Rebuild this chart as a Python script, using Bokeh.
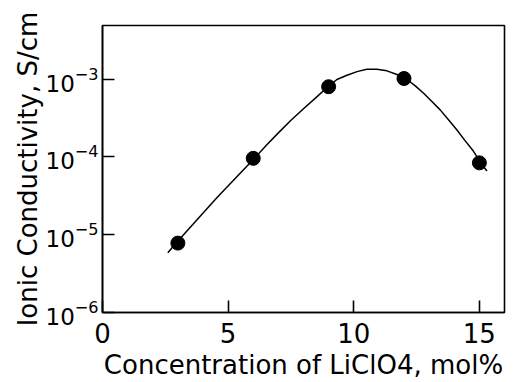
from bokeh.plotting import figure
from bokeh.models import FixedTicker, LogTickFormatter, Range1d
from bokeh.embed import file_html
from bokeh.resources import INLINE

# Measured data points
conc = [3, 6, 9, 12, 15]
sigma = [7.8e-6, 9.6e-5, 8.0e-4, 1.02e-3, 8.4e-5]

# Smooth hand-drawn curve
curve_x = [2.60, 2.93, 4.56, 6.02, 6.55, 7.0, 7.48, 8.0, 8.54, 8.97, 9.33,
           9.73, 10.13, 10.52, 10.92, 11.32, 11.72, 12.07, 12.45, 12.78,
           13.10, 13.44, 13.77, 14.10, 14.43, 14.76, 15.07, 15.30]
curve_y = [5.85e-6, 7.83e-6, 3.02e-5, 9.4e-5, 1.45e-4, 2.04e-4, 2.92e-4,
           4.17e-4, 5.96e-4, 7.98e-4, 9.9e-4, 1.125e-3, 1.25e-3, 1.34e-3,
           1.34e-3, 1.28e-3, 1.15e-3, 1.02e-3, 8.2e-4, 6.58e-4, 5.2e-4,
           4.03e-4, 3.0e-4, 2.24e-4, 1.62e-4, 1.19e-4, 8.26e-5, 6.6e-5]

x_ticks = [0, 5, 10, 15]
y_ticks = [1e-6, 1e-5, 1e-4, 1e-3]

FONT = "DejaVu Sans"

p = figure(width=527, height=382, y_axis_type="log",
           x_range=Range1d(0, 16), y_range=Range1d(1e-6, 4.9e-3),
           output_backend="svg", toolbar_location=None,
           min_border_left=102, min_border_right=23,
           min_border_top=25, min_border_bottom=68)
p.grid.visible = False
p.background_fill_color = "white"
p.border_fill_color = "white"
p.outline_line_color = "black"
p.outline_line_width = 1.6

p.line(curve_x, curve_y, line_color="black", line_width=1.5)
p.scatter(conc, sigma, size=14, marker="circle", fill_color="black",
          line_color="black")

p.xaxis.ticker = FixedTicker(ticks=x_ticks)
p.yaxis.ticker = FixedTicker(ticks=y_ticks)
p.yaxis.formatter = LogTickFormatter()

for ax in (p.xaxis[0], p.yaxis[0]):
    ax.axis_line_color = "black"
    ax.axis_line_width = 1.6
    ax.major_tick_line_color = "black"
    ax.major_tick_line_width = 1.6
    ax.major_tick_in = 12
    ax.major_tick_out = 0
    ax.minor_tick_line_color = None
    ax.major_label_text_font = FONT
    ax.major_label_text_font_size = "26px"
    ax.major_label_text_color = "black"
    ax.axis_label_text_font = FONT
    ax.axis_label_text_font_size = "26px"
    ax.axis_label_text_font_style = "normal"
    ax.axis_label_text_color = "black"

p.yaxis.major_label_text_font_size = "23px"
p.xaxis.axis_label = "Concentration of LiClO4, mol%"
p.yaxis.axis_label = "Ionic Conductivity, S/cm"
p.xaxis.major_label_standoff = 10
p.yaxis.major_label_standoff = 4
p.xaxis.axis_label_standoff = 4
p.yaxis.axis_label_standoff = 0

open("out.html", "w").write(file_html(p, INLINE))
